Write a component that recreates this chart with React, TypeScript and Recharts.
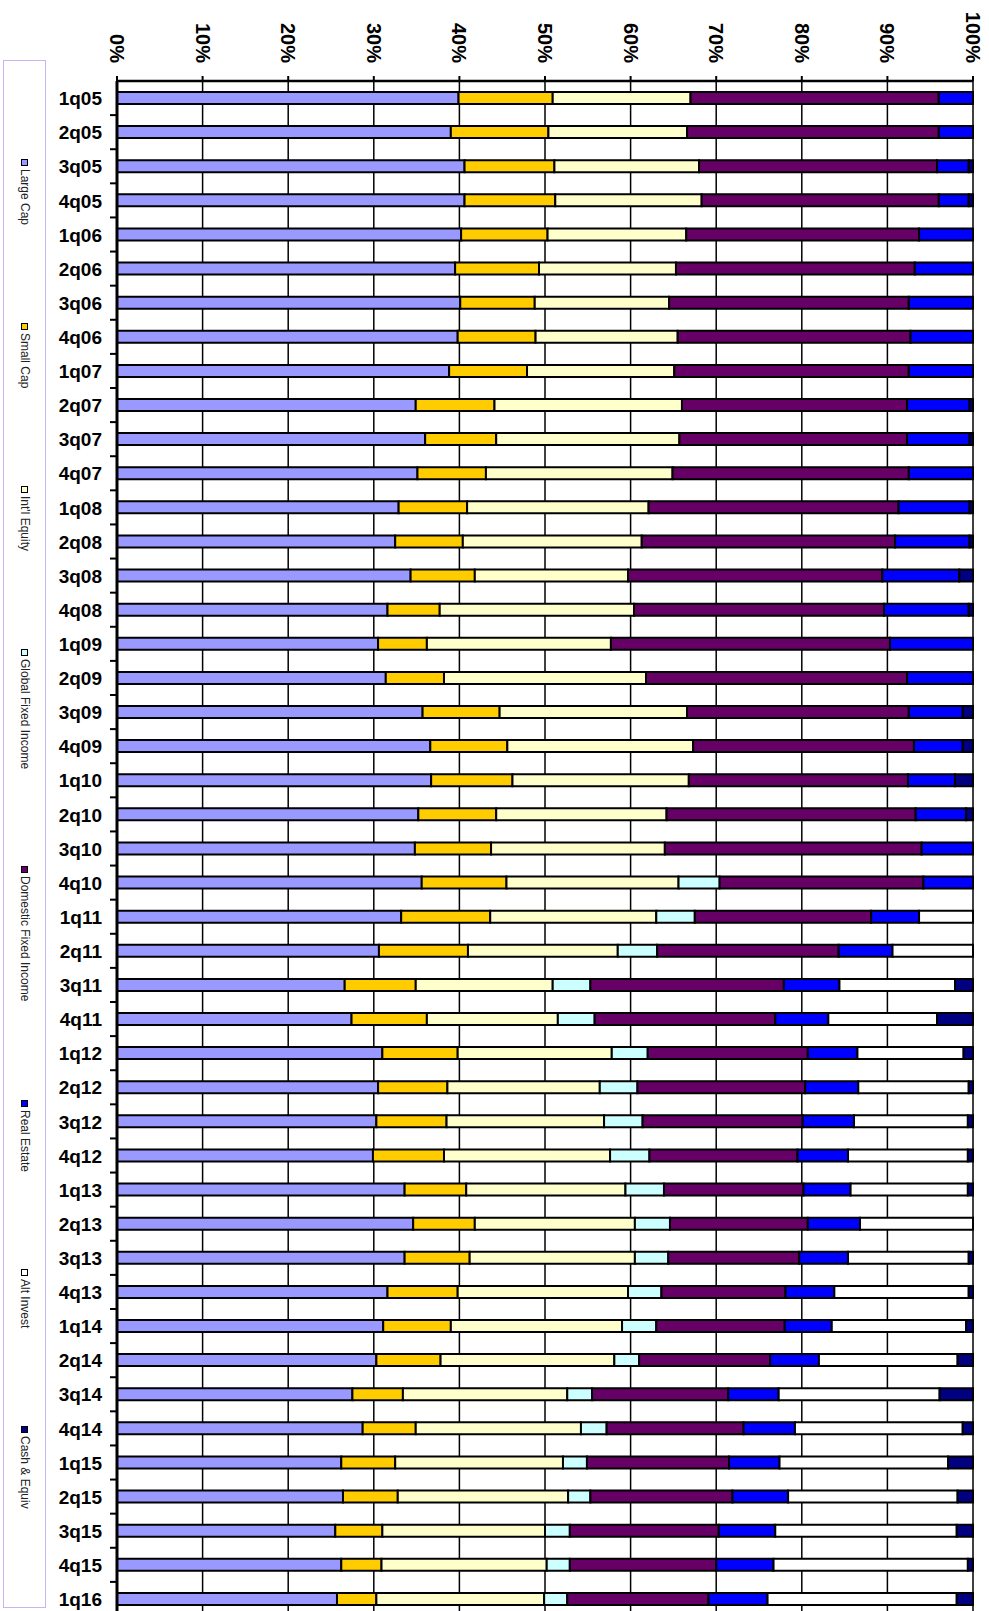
import { BarChart, Bar, XAxis, YAxis, CartesianGrid } from "recharts";

const quarters = [
  "1q05", "2q05", "3q05", "4q05", "1q06", "2q06", "3q06", "4q06", "1q07",
  "2q07", "3q07", "4q07", "1q08", "2q08", "3q08", "4q08", "1q09", "2q09",
  "3q09", "4q09", "1q10", "2q10", "3q10", "4q10", "1q11", "2q11", "3q11",
  "4q11", "1q12", "2q12", "3q12", "4q12", "1q13", "2q13", "3q13", "4q13",
  "1q14", "2q14", "3q14", "4q14", "1q15", "2q15", "3q15", "4q15", "1q16",
];

const largeCap = [
  39.9, 39.0, 40.6, 40.6, 40.2, 39.5, 40.1, 39.8, 38.8,
  34.9, 36.0, 35.1, 32.9, 32.5, 34.3, 31.6, 30.5, 31.4,
  35.7, 36.6, 36.7, 35.2, 34.8, 35.6, 33.2, 30.6, 26.6,
  27.4, 31.0, 30.5, 30.3, 29.9, 33.6, 34.6, 33.6, 31.6,
  31.1, 30.3, 27.5, 28.7, 26.2, 26.4, 25.5, 26.2, 25.7,
];
const smallCap = [
  11.0, 11.4, 10.5, 10.6, 10.1, 9.8, 8.7, 9.1, 9.1,
  9.2, 8.3, 8.0, 8.0, 7.9, 7.5, 6.1, 5.7, 6.8,
  9.0, 9.0, 9.5, 9.1, 8.9, 9.9, 10.4, 10.4, 8.3,
  8.8, 8.8, 8.1, 8.2, 8.3, 7.2, 7.2, 7.6, 8.2,
  7.9, 7.5, 5.9, 6.2, 6.3, 6.4, 5.5, 4.7, 4.6,
];
const intlEquity = [
  16.1, 16.2, 16.9, 17.1, 16.2, 16.0, 15.7, 16.6, 17.2,
  21.9, 21.4, 21.8, 21.2, 20.9, 17.9, 22.7, 21.5, 23.6,
  21.9, 21.7, 20.6, 19.9, 20.3, 20.1, 19.4, 17.5, 16.0,
  15.3, 18.0, 17.8, 18.4, 19.4, 18.6, 18.7, 19.3, 19.9,
  20.0, 20.3, 19.2, 19.3, 19.6, 19.9, 19.0, 19.3, 19.6,
];
const globalFixed = [
  0, 0, 0, 0, 0, 0, 0, 0, 0,
  0, 0, 0, 0, 0, 0, 0, 0, 0,
  0, 0, 0, 0, 0, 4.8, 4.5, 4.6, 4.4,
  4.3, 4.2, 4.4, 4.5, 4.6, 4.5, 4.1, 3.9, 3.9,
  4.0, 2.9, 2.9, 3.0, 2.8, 2.6, 2.9, 2.7, 2.7,
];
const domesticFixed = [
  29.0, 29.4, 27.8, 27.7, 27.2, 27.9, 28.0, 27.2, 27.4,
  26.3, 26.6, 27.6, 29.2, 29.6, 29.7, 29.2, 32.6, 30.5,
  25.9, 25.8, 25.6, 29.1, 30.0, 23.8, 20.6, 21.2, 22.6,
  21.1, 18.7, 19.6, 18.7, 17.3, 16.3, 16.1, 15.3, 14.5,
  15.0, 15.3, 15.9, 16.0, 16.6, 16.6, 17.4, 17.1, 16.5,
];
const realEstate = [
  4.0, 4.0, 3.7, 3.5, 6.3, 6.8, 7.5, 7.3, 7.5,
  7.3, 7.3, 7.5, 8.3, 8.7, 9.0, 9.9, 9.7, 7.7,
  6.3, 5.7, 5.5, 5.9, 6.0, 5.8, 5.6, 6.3, 6.5,
  6.2, 5.8, 6.2, 6.0, 5.9, 5.5, 6.1, 5.7, 5.7,
  5.5, 5.7, 5.9, 6.0, 5.9, 6.5, 6.6, 6.7, 6.9,
];
const altInvest = [
  0, 0, 0, 0, 0, 0, 0, 0, 0,
  0, 0, 0, 0, 0, 0, 0, 0, 0,
  0, 0, 0, 0, 0, 0, 6.3, 9.4, 13.5,
  12.7, 12.4, 12.9, 13.3, 14.0, 13.7, 13.2, 14.1, 15.7,
  15.7, 16.2, 18.8, 19.6, 19.7, 19.8, 21.2, 22.7, 22.1,
];
const cashEquiv = [
  0, 0, 0.5, 0.5, 0, 0, 0, 0, 0,
  0.4, 0.4, 0, 0.4, 0.4, 1.6, 0.5, 0, 0,
  1.2, 1.2, 2.1, 0.8, 0, 0, 0, 0, 2.1,
  4.2, 1.1, 0.5, 0.6, 0.6, 0.6, 0, 0.5, 0.5,
  0.8, 1.8, 3.9, 1.2, 2.9, 1.8, 1.9, 0.6, 1.9,
];

const percentTicks = [0, 0.1, 0.2, 0.3, 0.4, 0.5, 0.6, 0.7, 0.8, 0.9, 1];

const series = [
  { key: "largeCap", name: "Large Cap", color: "#9999FF" },
  { key: "smallCap", name: "Small Cap", color: "#FFCC00" },
  { key: "intlEquity", name: "Int'l Equity", color: "#FFFFCC" },
  { key: "globalFixed", name: "Global Fixed Income", color: "#CCFFFF" },
  { key: "domesticFixed", name: "Domestic Fixed Income", color: "#660066" },
  { key: "realEstate", name: "Real Estate", color: "#0000FF" },
  { key: "altInvest", name: "Alt Invest", color: "#FFFFFF" },
  { key: "cashEquiv", name: "Cash & Equiv", color: "#000080" },
];

const data = quarters.map((q, i) => ({
  q,
  largeCap: largeCap[i],
  smallCap: smallCap[i],
  intlEquity: intlEquity[i],
  globalFixed: globalFixed[i],
  domesticFixed: domesticFixed[i],
  realEstate: realEstate[i],
  altInvest: altInvest[i],
  cashEquiv: cashEquiv[i],
}));

const W = 989;
const H = 1620;
const margin = { top: 0, right: 16, bottom: 4, left: 0 };
const X_AXIS_H = 81;
const Y_AXIS_W = 117;
const band = (H - margin.top - margin.bottom - X_AXIS_H) / quarters.length;
const font = "Arial, 'Liberation Sans', sans-serif";

const PercentTick = (props: any) => {
  const { x, y, payload } = props;
  return (
    <text
      x={x}
      y={y}
      transform={`rotate(90 ${x} ${y})`}
      textAnchor="end"
      dy="0.35em"
      fontSize={20}
      fontWeight="bold"
      fontFamily={font}
      fill="#000"
    >
      {Math.round(payload.value * 100)}%
    </text>
  );
};

const QuarterTick = (props: any) => {
  const { x, y, payload } = props;
  const by = y + band / 2;
  return (
    <g>
      <text
        x={x}
        y={y}
        textAnchor="end"
        dy="0.38em"
        fontSize={19}
        fontWeight="bold"
        fontFamily={font}
        fill="#000"
      >
        {payload.value}
      </text>
      <line x1={x + 8} x2={x + 15} y1={by} y2={by} stroke="#000" strokeWidth={2} />
    </g>
  );
};

const SideLegend = () => (
  <div
    style={{
      position: "absolute",
      left: 3,
      top: 60,
      width: 43,
      height: 1548,
      boxSizing: "border-box",
      border: "1.5px solid #C8B4EE",
      background: "#fff",
      display: "flex",
      flexDirection: "column",
      justifyContent: "space-evenly",
      alignItems: "center",
    }}
  >
    {series.map((s) => (
      <div
        key={s.key}
        style={{
          writingMode: "vertical-rl",
          fontSize: 12,
          fontFamily: font,
          color: "#222",
          whiteSpace: "nowrap",
        }}
      >
        <span
          style={{
            display: "inline-block",
            width: 5,
            height: 5,
            border: "1.5px solid #000",
            background: s.color,
            marginBottom: 3,
          }}
        />
        {s.name}
      </div>
    ))}
  </div>
);

export default function App() {
  return (
    <div
      style={{
        position: "absolute",
        left: 0,
        top: 0,
        width: W,
        height: 1611,
        overflow: "hidden",
        background: "#fff",
      }}
    >
      <BarChart
        width={W}
        height={H}
        data={data}
        layout="vertical"
        stackOffset="expand"
        margin={margin}
        barSize={12}
      >
        <CartesianGrid horizontal={false} stroke="#000" strokeWidth={1.5} />
        <XAxis
          type="number"
          orientation="top"
          domain={[0, 1]}
          ticks={percentTicks}
          height={X_AXIS_H}
          tickSize={5}
          tickMargin={13}
          tick={PercentTick}
          tickLine={{ stroke: "#000", strokeWidth: 2 }}
          axisLine={{ stroke: "#000", strokeWidth: 2.5 }}
        />
        <YAxis
          type="category"
          dataKey="q"
          width={Y_AXIS_W}
          tickSize={7}
          tickMargin={8}
          tickLine={false}
          tick={QuarterTick}
          interval={0}
          axisLine={{ stroke: "#000", strokeWidth: 3 }}
        />
        {series.map((s) => (
          <Bar
            key={s.key}
            dataKey={s.key}
            name={s.name}
            stackId="mix"
            fill={s.color}
            stroke="#000"
            strokeWidth={2}
            isAnimationActive={false}
          />
        ))}
      </BarChart>
      <SideLegend />
    </div>
  );
}
